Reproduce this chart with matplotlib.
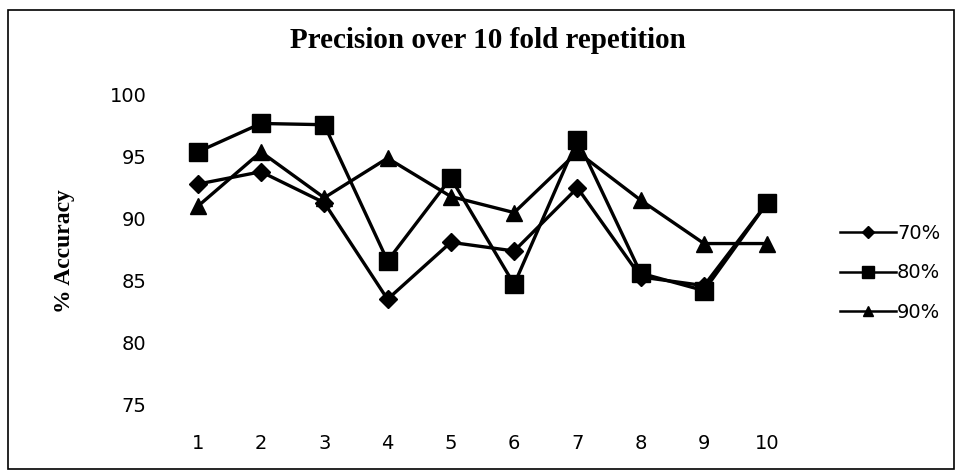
import matplotlib.pyplot as plt
from matplotlib.patches import Rectangle

folds = list(range(1, 11))
acc_70 = [92.8, 93.8, 91.3, 83.5, 88.1, 87.4, 92.5, 85.3, 84.6, 91.3]
acc_80 = [95.4, 97.7, 97.6, 86.6, 93.3, 84.7, 96.4, 85.6, 84.2, 91.3]
acc_90 = [91.0, 95.4, 91.7, 94.9, 91.8, 90.5, 95.4, 91.5, 88.0, 88.0]
y_ticks = [75, 80, 85, 90, 95, 100]

fig = plt.figure(figsize=(9.59, 4.70), dpi=100)
ax = fig.add_axes([166 / 959, 1 - 428 / 470, (799 - 166) / 959, (428 - 95) / 470])

ax.plot(folds, acc_70, color='black', lw=2.4, marker='D', ms=9, label='70%')
ax.plot(folds, acc_80, color='black', lw=2.4, marker='s', ms=13, label='80%')
ax.plot(folds, acc_90, color='black', lw=2.4, marker='^', ms=11, label='90%')

ax.set_xlim(0.5, 10.5)
ax.set_ylim(73.1, 100)
ax.set_xticks(folds)
ax.set_yticks(y_ticks)
ax.tick_params(length=0, labelsize=14)
ax.tick_params(axis='x', pad=4)
ax.tick_params(axis='y', pad=14)
for s in ax.spines.values():
    s.set_visible(False)

ax.set_ylabel('% Accuracy', fontfamily='Liberation Serif', fontweight='bold', fontsize=17)
ax.yaxis.set_label_coords(-0.143, 0.53)

fig.text(0.509, 1 - 40 / 470, 'Precision over 10 fold repetition', ha='center', va='center',
         fontfamily='Liberation Serif', fontweight='bold', fontsize=21)

leg = fig.legend(loc='center left', bbox_to_anchor=(830 / 959, 1 - 273 / 470), frameon=False,
                 fontsize=14, handlelength=2.9, handletextpad=0.05, labelspacing=1.05, markerscale=0.65,
                 borderpad=0)
for line in leg.get_lines():
    line.set_linewidth(1.8)

# outer chart border
fig.patches.append(Rectangle((8 / 959, 0.002), 946 / 959, 1 - 10 / 470 - 0.002, transform=fig.transFigure,
                             fill=False, edgecolor='black', lw=1.2))

fig.savefig('out.png', dpi=100)
